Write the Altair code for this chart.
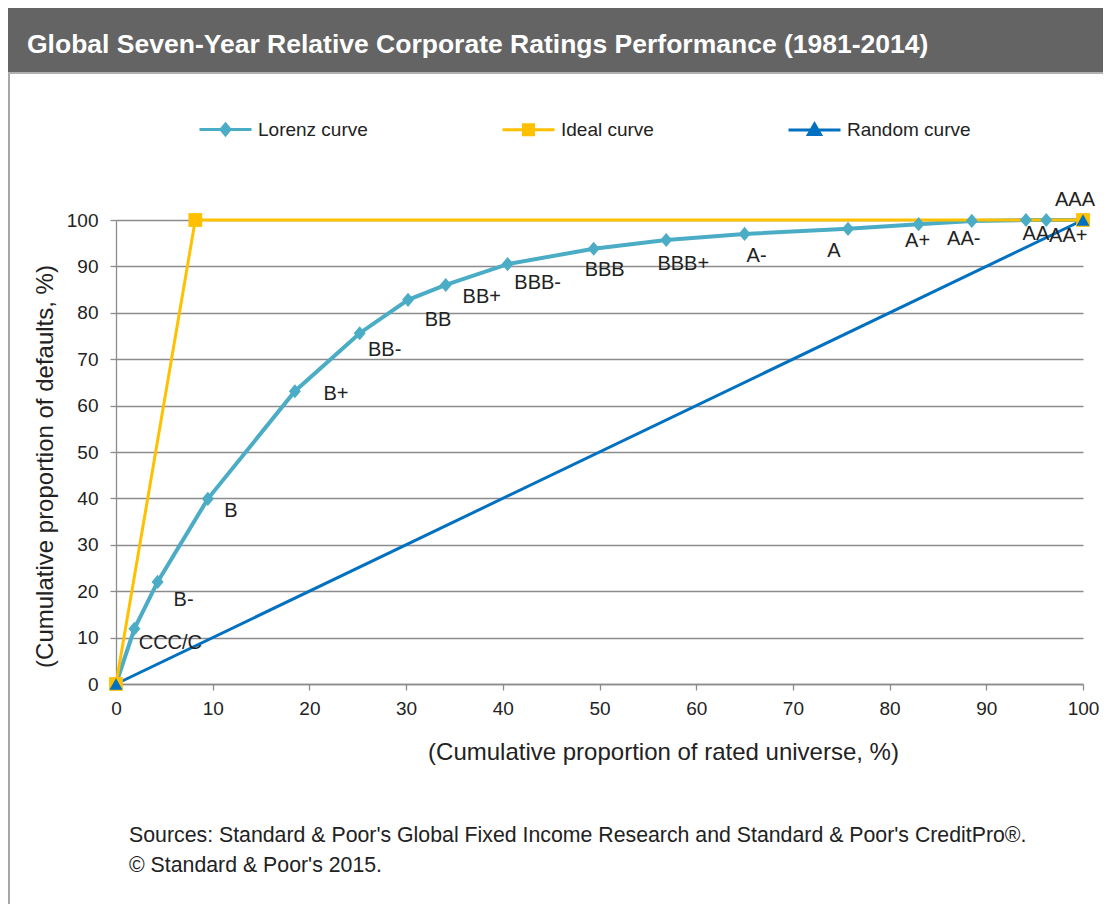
import altair as alt
import pandas as pd

# ---------------- data ----------------
series_names = ["Lorenz curve", "Ideal curve", "Random curve"]
series_colors = ["#4BACC6", "#FFC000", "#0070C0"]

ratings = ["CCC/C", "B-", "B", "B+", "BB-", "BB", "BB+", "BBB-", "BBB", "BBB+",
           "A-", "A", "A+", "AA-", "AA", "AA+", "AAA"]
lorenz_x = [0, 1.9, 4.3, 9.5, 18.5, 25.2, 30.2, 34.1, 40.5, 49.4, 56.9, 65.0, 75.7, 83.0, 88.5, 94.1, 96.2, 100]
lorenz_y = [0, 11.9, 22.0, 39.9, 63.1, 75.6, 82.8, 86.0, 90.5, 93.8, 95.7, 97.0, 98.1, 99.1, 99.8, 100, 100, 100]
ideal_x = [0, 8.2, 100]
ideal_y = [0, 100, 100]
random_x = [0, 100]
random_y = [0, 100]

x_ticks = list(range(0, 101, 10))
y_ticks = list(range(0, 101, 10))

title_text = "Global Seven-Year Relative Corporate Ratings Performance (1981-2014)"
x_title = "(Cumulative proportion of rated universe, %)"
y_title = "(Cumulative proportion of defaults, %)"
source_text = "Sources: Standard & Poor's Global Fixed Income Research and Standard & Poor's CreditPro®."
copyright_text = "© Standard & Poor's 2015."

# label offsets in pixels (layout only)
label_dx = [36, 26, 23, 41, 25, 30, 36, 30, 11, 17, 12, -14, -1, -8, 10, 22, -8]
label_dy = [14, 18, 12, 3, 17, 20, 12, 19, 21, 24, 22, 22, 17, 18, 14, 16, -20]

# ---------------- tables ----------------
rows = []
for name, xs, ys in [(series_names[0], lorenz_x, lorenz_y),
                     (series_names[1], ideal_x, ideal_y),
                     (series_names[2], random_x, random_y)]:
    for i, (xv, yv) in enumerate(zip(xs, ys)):
        rows.append({"series": name, "x": xv, "y": yv, "i": i})
df = pd.DataFrame(rows)

lab = pd.DataFrame({"x": lorenz_x[1:], "y": lorenz_y[1:], "label": ratings,
                    "dx": label_dx, "dy": label_dy})

FONT = "Liberation Sans"
W, H = 967, 464
PAD_L, PAD_T, PAD_R, PAD_B = 108, 212, 20, 220

xscale = alt.Scale(domain=[0, 100], nice=False)
yscale = alt.Scale(domain=[0, 100], nice=False)

xaxis = alt.Axis(values=x_ticks, title=x_title, grid=False, labelFlush=False,
                 titleX=547, titleY=68, titleBaseline="middle",
                 titleFontSize=24, titleFont=FONT, titleFontWeight="normal",
                 titleColor="#222222",
                 labelFontSize=19, labelFont=FONT, labelColor="#222222",
                 labelPadding=9, tickSize=6, tickColor="#8c8c8c",
                 domainColor="#8c8c8c", domainWidth=1.3, tickWidth=1.3)
yaxis = alt.Axis(values=y_ticks, title=y_title, grid=True, labelFlush=False,
                 gridColor="#8c8c8c", gridWidth=1.3,
                 titleX=-71, titleY=246, titleAngle=-90,
                 titleAlign="center", titleBaseline="middle",
                 titleFontSize=24, titleFont=FONT, titleFontWeight="normal",
                 titleColor="#222222",
                 labelFontSize=19, labelFont=FONT, labelColor="#222222",
                 labelPadding=12, tickSize=6, tickColor="#8c8c8c",
                 domainColor="#8c8c8c", domainWidth=1.3, tickWidth=1.3)

one = pd.DataFrame({"t": [0]})

# decorations
frame = alt.Chart(one).mark_rect(fillOpacity=0, stroke="#8a8a8a", strokeWidth=1.5).encode(
    x=alt.value(-107), x2=alt.value(990), y=alt.value(-147), y2=alt.value(700))
header = alt.Chart(one).mark_rect(fill="#646464").encode(
    x=alt.value(-108), x2=alt.value(990), y=alt.value(-212), y2=alt.value(-147))
header_line = alt.Chart(one).mark_rule(color="#b0b0b0", strokeWidth=2).encode(
    x=alt.value(-108), x2=alt.value(990), y=alt.value(-147))
title = alt.Chart(pd.DataFrame({"t": [title_text]})).mark_text(
    align="left", baseline="middle", font=FONT, fontSize=26.5, fontWeight="bold",
    color="white").encode(x=alt.value(-89), y=alt.value(-175), text="t:N")
src = alt.Chart(pd.DataFrame({"t": [source_text]})).mark_text(
    align="left", baseline="middle", font=FONT, fontSize=21.3, color="#222222").encode(
    x=alt.value(13), y=alt.value(616), text="t:N")
cpy = alt.Chart(pd.DataFrame({"t": [copyright_text]})).mark_text(
    align="left", baseline="middle", font=FONT, fontSize=21.3, color="#222222").encode(
    x=alt.value(13), y=alt.value(646), text="t:N")

base = alt.Chart(df)

line_widths = [4, 3, 3]
marker_shapes = ["M0,-1L0.85,0L0,1L-0.85,0Z", "square", "triangle-up"]
marker_sizes = [200, 190, 170]

line_layers = []
point_layers = []
for k in range(3):
    sub = base.transform_filter(alt.datum.series == series_names[k])
    if k == 0:
        enc = dict(x=alt.X("x:Q", scale=xscale, axis=xaxis),
                   y=alt.Y("y:Q", scale=yscale, axis=yaxis), order="i:Q")
    else:
        enc = dict(x="x:Q", y="y:Q", order="i:Q")
    line_layers.append(sub.mark_line(color=series_colors[k], strokeWidth=line_widths[k],
                                     clip=False).encode(**enc))
    point_layers.append(sub.mark_point(shape=marker_shapes[k], filled=True, size=marker_sizes[k],
                                       opacity=1, color=series_colors[k]).encode(x="x:Q", y="y:Q"))

labels = alt.Chart(lab).transform_calculate(
    lx=f"datum.x + datum.dx * 100 / {W}",
    ly=f"datum.y - datum.dy * 100 / {H}"
).mark_text(font=FONT, fontSize=20, color="#222222",
            baseline="middle", align="center").encode(
    x=alt.X("lx:Q"), y=alt.Y("ly:Q"), text="label:N")

# legend-only layer (invisible marks, visible legend)
paths = ["M-2.6,0H2.6M0,-0.55L0.45,0L0,0.55L-0.45,0Z",
         "M-2.6,0H2.6M-0.5,-0.5H0.5V0.5H-0.5Z",
         "M-2.6,0H2.6M0,-0.6L0.6,0.45H-0.6Z"]
leg = alt.Legend(title=None, orient="none", legendX=98, legendY=-102, direction="horizontal",
                 padding=0, columnPadding=128, labelFontSize=19, labelFont=FONT,
                 labelColor="#222222", labelOffset=21, symbolSize=400,
                 symbolStrokeWidth=3, symbolOpacity=1)
legend_layer = base.mark_point(filled=True, opacity=0, size=1).encode(
    x="x:Q", y="y:Q",
    fill=alt.Fill("series:N", scale=alt.Scale(domain=series_names, range=series_colors), legend=leg),
    stroke=alt.Stroke("series:N", scale=alt.Scale(domain=series_names, range=series_colors), legend=leg),
    shape=alt.Shape("series:N", scale=alt.Scale(domain=series_names, range=paths), legend=leg))

chart = alt.layer(frame, header, header_line, title, src, cpy,
                  *line_layers, *point_layers, labels, legend_layer).properties(
    width=W, height=H,
    padding={"left": PAD_L, "top": PAD_T, "right": PAD_R, "bottom": PAD_B},
    autosize=alt.AutoSizeParams(type="none"),
    background="white"
).configure_view(stroke=None)

chart.save("out.html", embed_options={"renderer": "svg", "actions": False})
